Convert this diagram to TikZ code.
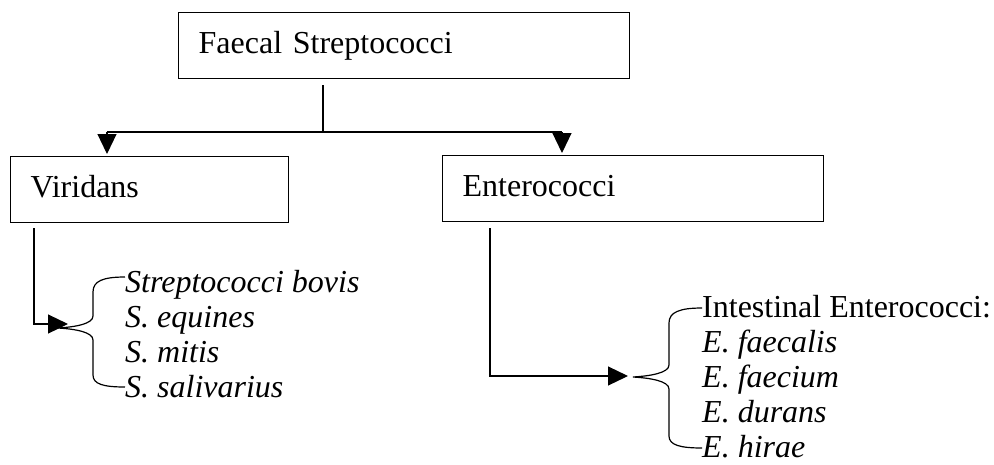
\documentclass[tikz,border=0pt]{standalone}
\usepackage{fontspec}
\setmainfont{Liberation Serif}
\usetikzlibrary{arrows.meta}
\newcommand{\diagfont}{\fontsize{32pt}{35pt}\selectfont}

\begin{document}
\begin{tikzpicture}[x=1pt, y=-1pt, every node/.style={font=\diagfont},
  box/.style={draw, line width=1.3pt, anchor=north west, inner xsep=20pt, inner ysep=0pt,
    minimum height=66pt, text height=22pt, text depth=7pt, align=left},
  item/.style={anchor=base west, inner sep=0pt},
  species/.style={item, font=\diagfont\itshape},
  link/.style={line width=1.2pt},
  arr/.style={link, -{Triangle[length=20pt, width=19pt]}}]
  \useasboundingbox (0,0) rectangle (994,464);
  % the three boxes
  \node[box, text width=411pt] (faecal) at (178,12) {Faecal Streptococci};
  \node[box, text width=238pt] (vir) at (10,156) {Viridans};
  \node[box, text width=341pt] (entero) at (442,155) {Enterococci};
  % split below the top box
  \coordinate (split) at (323,132);
  \coordinate (toleft) at (107,132);
  \coordinate (toright) at (562,132);
  \draw[link] (split |- faecal.south) ++(0,6) -- (split);
  \draw[link] (toleft) -- (toright);
  \draw[arr, shorten >=2pt] (toleft) -- (toleft |- vir.north);
  \draw[arr, shorten >=2pt] (toright) -- (toright |- entero.north);
  % viridans species
  \foreach \sp [count=\i] in {Streptococci bovis, S. equines, S. mitis, S. salivarius}
    \node[species] (virsp\i) at (125,257+35*\i) {\sp};
  \coordinate (virbend) at (34,324);
  \coordinate (virtip) at (68,324);
  \draw[arr] (virbend |- vir.south) ++(0,5) -- (virbend) -- (virtip);
  \draw[link] (125,277) .. controls (103,277) and (93,281) .. (93,292) -- (93,316)
    .. controls (93,324) and (75,327) .. (58,328) .. controls (75,329) and (93,332) .. (93,340)
    -- (93,375) .. controls (93,384) and (103,387) .. (125,387);
  % enterococci species
  \node[item] (intest) at (702,317) {Intestinal Enterococci:};
  \foreach \sp [count=\i] in {E. faecalis, E. faecium, E. durans, E. hirae}
    \node[species] (entsp\i) at (702,317+35*\i) {\sp};
  \coordinate (entbend) at (490,376);
  \coordinate (enttip) at (628,376);
  \draw[arr] (entbend |- entero.south) ++(0,6) -- (entbend) -- (enttip);
  \draw[link] (702,308) .. controls (680,308) and (669,312) .. (669,323) -- (669,365)
    .. controls (669,373) and (650,376) .. (633,377) .. controls (650,378) and (669,381) .. (669,389)
    -- (669,436) .. controls (669,445) and (680,448) .. (702,448);
\end{tikzpicture}
\end{document}
